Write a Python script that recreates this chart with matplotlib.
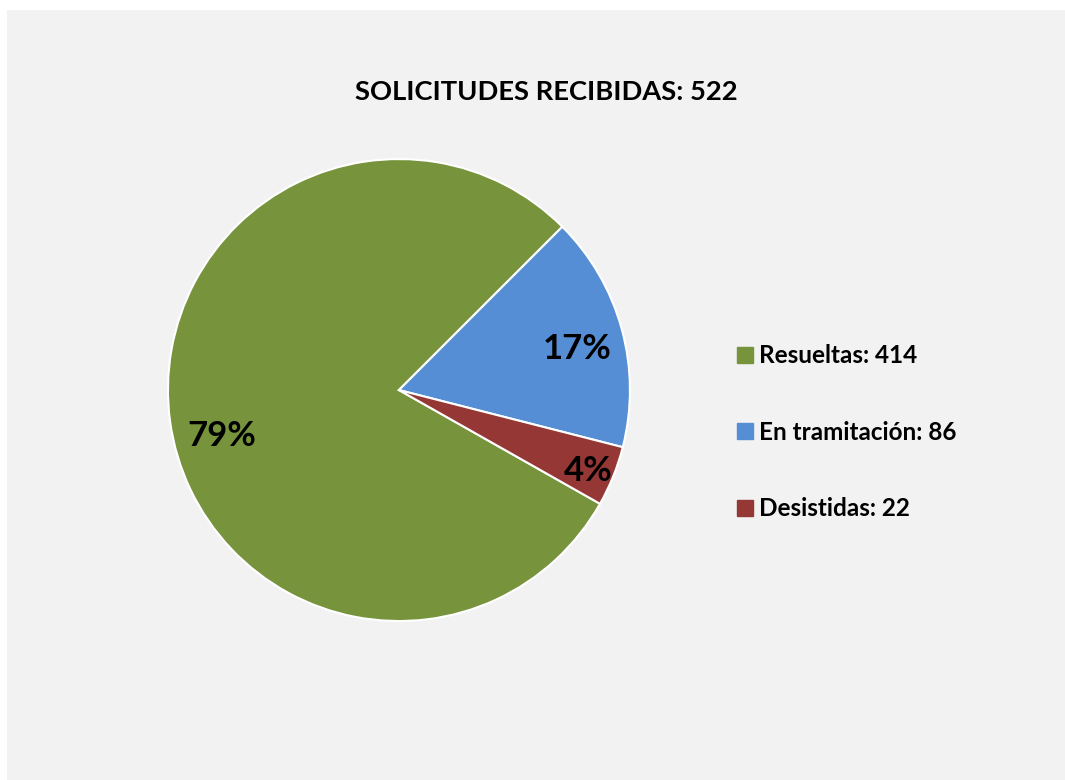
import numpy as np
import matplotlib.pyplot as plt
from matplotlib.patches import Rectangle
from matplotlib.lines import Line2D

plt.rcParams['font.family'] = ['Lato', 'DejaVu Sans']

categories = ['Resueltas', 'En tramitación', 'Desistidas']
values = [414, 86, 22]
pct_labels = ['79%', '17%', '4%']   # as printed on the original chart
colors = ['#77933C', '#558ED5', '#953735']
total = sum(values)

fig = plt.figure(figsize=(10.65, 7.8), dpi=100)
fig.patch.set_facecolor('white')
fig.patches.append(Rectangle((7 / 1065, 0), 1 - 7 / 1065, 1 - 10 / 780,
                             transform=fig.transFigure, facecolor='#F2F2F2',
                             edgecolor='none', zorder=-10))

ax = fig.add_axes([0.1577, 0.2038, 0.4338, 0.5923])
wedges, _ = ax.pie(values, colors=colors, startangle=-29.5, counterclock=False,
                   wedgeprops=dict(edgecolor='white', linewidth=1.5))

# label placement inside each wedge (radius fraction, angle tweak in degrees)
label_r = [0.79, 0.79, 0.89]
label_shift = [6.7, -2.3, -1.4]
for w, txt, r, s in zip(wedges, pct_labels, label_r, label_shift):
    ang = np.deg2rad((w.theta1 + w.theta2) / 2 + s)
    ax.text(r * np.cos(ang), r * np.sin(ang), txt, ha='center', va='center',
            fontsize=25, fontweight='bold', color='black')

ax.set_xlim(-1, 1)
ax.set_ylim(-1, 1)
ax.set_aspect('equal')

fig.text(0.513, 0.882, f'SOLICITUDES RECIBIDAS: {total}', ha='center', va='center',
         fontsize=19.7, fontweight='bold')

handles = [Line2D([], [], marker='s', linestyle='none', markersize=11,
                  markerfacecolor=c, markeredgecolor=c) for c in colors]
labels = [f'{c}: {v}' for c, v in zip(categories, values)]
fig.legend(handles, labels, loc='center left', bbox_to_anchor=(0.672, 0.446),
           frameon=False, prop=dict(size=17.5, weight='bold'),
           handlelength=0.6, handletextpad=0.3, labelspacing=2.2)

fig.savefig('out.png', dpi=100, facecolor=fig.get_facecolor())
